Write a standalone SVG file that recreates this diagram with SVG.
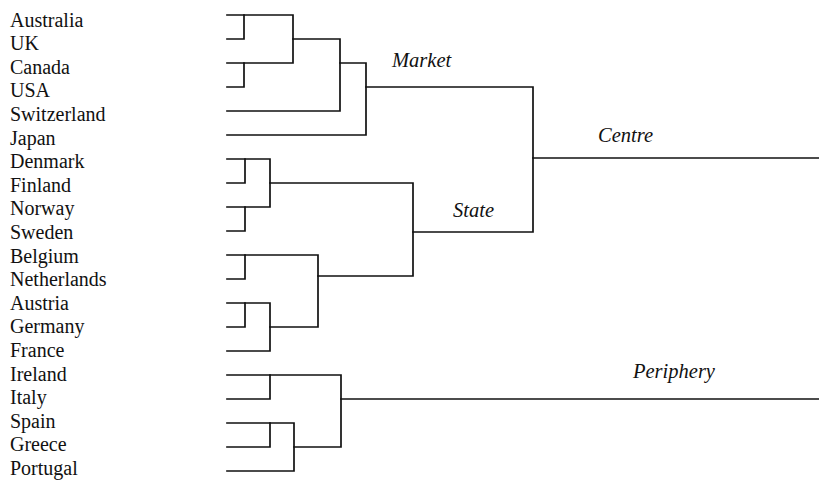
<svg xmlns="http://www.w3.org/2000/svg" width="819" height="483" viewBox="0 0 819 483">
<style>
.lbl{font-family:"Liberation Serif","Times New Roman",serif;font-size:20px;fill:#111}
.cl{font-family:"Liberation Serif","Times New Roman",serif;font-size:20.5px;font-style:italic;fill:#111}
.ln{fill:none;stroke:#111;stroke-width:1.7;stroke-linecap:square;stroke-linejoin:miter}
</style>
<rect width="819" height="483" fill="#fff"/>
<g id="leaves">
<g id="australia"><text class="lbl" x="10" y="26.5">Australia</text></g>
<g id="uk"><text class="lbl" x="10" y="50.2">UK</text></g>
<g id="canada"><text class="lbl" x="10" y="73.8">Canada</text></g>
<g id="usa"><text class="lbl" x="10" y="97.4">USA</text></g>
<g id="switzerland"><text class="lbl" x="10" y="121">Switzerland</text></g>
<g id="japan"><text class="lbl" x="10" y="144.6">Japan</text></g>
<g id="denmark"><text class="lbl" x="10" y="168.2">Denmark</text></g>
<g id="finland"><text class="lbl" x="10" y="191.8">Finland</text></g>
<g id="norway"><text class="lbl" x="10" y="215.4">Norway</text></g>
<g id="sweden"><text class="lbl" x="10" y="239">Sweden</text></g>
<g id="belgium"><text class="lbl" x="10" y="262.6">Belgium</text></g>
<g id="netherlands"><text class="lbl" x="10" y="286.2">Netherlands</text></g>
<g id="austria"><text class="lbl" x="10" y="309.8">Austria</text></g>
<g id="germany"><text class="lbl" x="10" y="333.4">Germany</text></g>
<g id="france"><text class="lbl" x="10" y="357">France</text></g>
<g id="ireland"><text class="lbl" x="10" y="380.6">Ireland</text></g>
<g id="italy"><text class="lbl" x="10" y="404.2">Italy</text></g>
<g id="spain"><text class="lbl" x="10" y="427.8">Spain</text></g>
<g id="greece"><text class="lbl" x="10" y="451.4">Greece</text></g>
<g id="portugal"><text class="lbl" x="10" y="475">Portugal</text></g>
</g>
<g id="clusters">
<g id="market"><text class="cl" x="392" y="67">Market</text></g>
<g id="centre"><text class="cl" x="598" y="142">Centre</text></g>
<g id="state"><text class="cl" x="453" y="217">State</text></g>
<g id="periphery"><text class="cl" x="633" y="378">Periphery</text></g>
</g>
<g id="connectors" class="ln">
<path d="M227 15H293V63H227"/>
<path d="M227 39H244V15"/>
<path d="M227 87H244V63"/>
<path d="M293 39H340V111H227"/>
<path d="M340 63H366V135H227"/>
<path d="M366 87H533V232H413"/>
<path d="M533 158H819"/>
<path d="M227 159H270V207H227"/>
<path d="M227 183H245V159"/>
<path d="M227 231H245V207"/>
<path d="M270 183H413V276H318"/>
<path d="M227 255H318V327H270"/>
<path d="M227 279H245V255"/>
<path d="M227 303H270V351H227"/>
<path d="M227 327H245V303"/>
<path d="M227 375H341V447H294"/>
<path d="M227 399H270V375"/>
<path d="M227 423H294V471H227"/>
<path d="M227 447H270V423"/>
<path d="M341 399H819"/>
</g>
</svg>
